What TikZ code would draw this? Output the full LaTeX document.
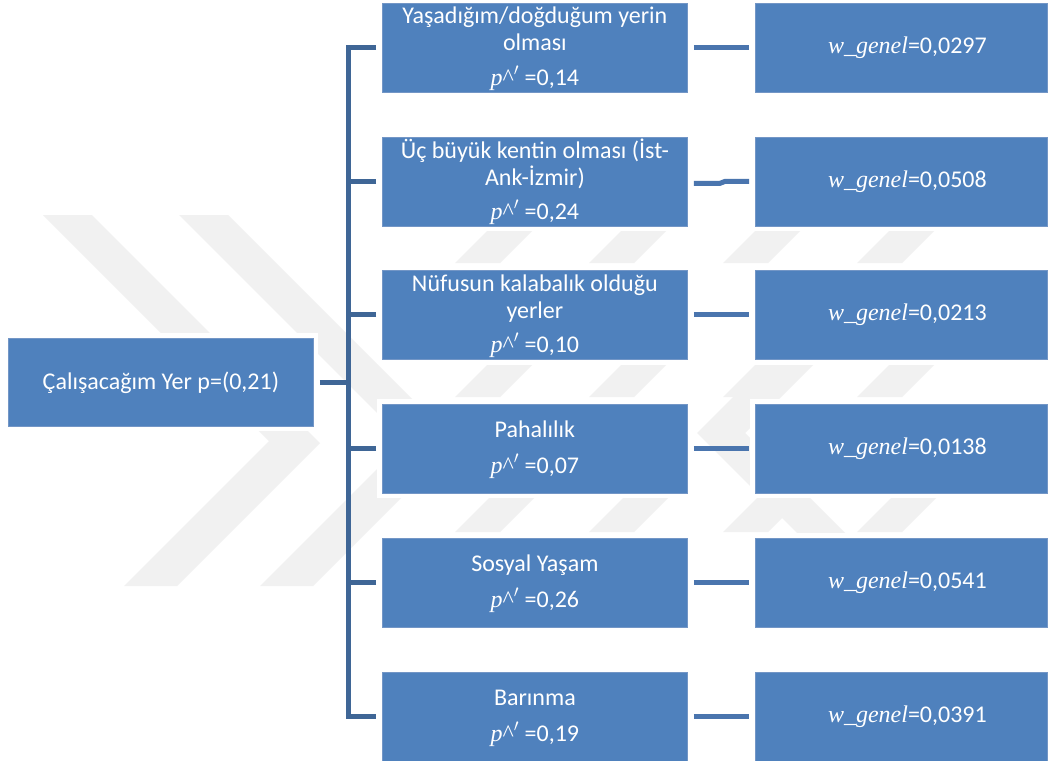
\documentclass[tikz,border=0pt]{standalone}
\usepackage{fontspec}
\setmainfont{Carlito}
\newfontfamily\mfont{Liberation Serif}
\usetikzlibrary{calc}
\definecolor{boxblue}{HTML}{4F81BD}
\definecolor{boxedge}{HTML}{7396C6}
\definecolor{treeline}{HTML}{3F6696}
\definecolor{rline}{HTML}{4A75AE}
\definecolor{wm}{HTML}{F1F1F1}
\newcommand{\mi}[1]{{\mfont\itshape #1}}
\newcommand{\pp}{\mi{p}{\mfont\textasciicircum}$'$}
\begin{document}
\begin{tikzpicture}[x=1pt,y=-1pt,
  abox/.style={fill=boxblue, draw=boxedge, line width=0.8pt, inner sep=0pt,
               anchor=north west, preaction={draw=white, line width=10pt}},
  mbox/.style={abox, minimum width=305pt, minimum height=89pt},
  rbox/.style={abox, minimum width=292pt, minimum height=89pt},
  txt/.style={text=white, font=\fontsize{24}{28}\selectfont, anchor=base, inner sep=0pt},
  tree/.style={draw=treeline, line width=5pt},
  rcon/.style={draw=rline, line width=5pt},
  wmark/.style={fill=wm, draw=none}]
\useasboundingbox (0,0) rectangle (1049,760);
\fill[white] (0,0) rectangle (1049,760);
% watermark
\fill[wmark] (43,215)--(92,215)--(320,443)--(177,586)--(124,586)--(269,441)--cycle;
\fill[wmark] (179,215)--(228,215)--(456,443)--(313,586)--(260,586)--(405,441)--cycle;
\foreach \yt/\yb in {230/263,365/397,498/532}{
  \foreach \xo in {455,589,723,857}{
    \fill[wmark] (\xo,\yb)--(\xo+45,\yb)--(\xo+45+\yb-\yt,\yt)--(\xo+\yb-\yt,\yt)--cycle;
  }
}
\fill[wmark] (697,433)--(765,365)--(813,365)--(745,433)--(845,533)--(797,533)--cycle;
% boxes
\node[mbox, minimum height=88pt] (root) at (8,338) {};
\node[mbox] (m1) at (382,3) {};
\node[mbox] (m2) at (382,137) {};
\node[mbox] (m3) at (382,270) {};
\node[mbox] (m4) at (382,404) {};
\node[mbox] (m5) at (382,538) {};
\node[mbox] (m6) at (382,672) {};
\node[rbox] (r1) at (755,3) {};
\node[rbox] (r2) at (755,137) {};
\node[rbox] (r3) at (755,270) {};
\node[rbox] (r4) at (755,404) {};
\node[rbox] (r5) at (755,538) {};
\node[rbox] (r6) at (755,672) {};
% tree connectors
\draw[tree] ($(root.east)+(6,0)$) -- ($(root.east)+(35,0)$);
\draw[tree] ($(m1.west)+(-6,0)$) -- ($(m1.west)+(-34,0)$) -- ($(m6.west)+(-34,0)$) -- ($(m6.west)+(-6,0)$);
\foreach \n in {m2,m3,m4,m5}{
  \draw[tree] ($(\n.west)+(-6,0)$) -- ($(\n.west)+(-34,0)$);
}
% right connectors
\draw[rcon] ($(m1.east)+(6,0)$) -- ($(r1.west)+(-6,0)$);
\draw[rcon] ($(m2.east)+(6,1.5)$) -- ($(m2.east)+(32,1.5)$) -- ($(r2.west)+(-30,-0.5)$) -- ($(r2.west)+(-6,-0.5)$);
\draw[rcon] ($(m3.east)+(6,0)$) -- ($(r3.west)+(-6,0)$);
\draw[rcon] ($(m4.east)+(6,0)$) -- ($(r4.west)+(-6,0)$);
\draw[rcon] ($(m5.east)+(6,0)$) -- ($(r5.west)+(-6,0)$);
\draw[rcon] ($(m6.east)+(6,0)$) -- ($(r6.west)+(-6,0)$);
% texts
\node[txt] (t0) at ($(root.center)+(0,7)$) {Çalışacağım Yer p=(0,21)};
\node[txt] (t1a) at ($(m1.north)+(0,21)$) {Yaşadığım/doğduğum yerin};
\node[txt] (t1b) at ($(m1.north)+(0,48)$) {olması};
\node[txt] (t1c) at ($(m1.north)+(0,82)$) {\pp{} =0,14};
\node[txt] (t2a) at ($(m2.north)+(0,21)$) {Üç büyük kentin olması (İst-};
\node[txt] (t2b) at ($(m2.north)+(0,48)$) {Ank-İzmir)};
\node[txt] (t2c) at ($(m2.north)+(0,82)$) {\pp{} =0,24};
\node[txt] (t3a) at ($(m3.north)+(0,21)$) {Nüfusun kalabalık olduğu};
\node[txt] (t3b) at ($(m3.north)+(0,48)$) {yerler};
\node[txt] (t3c) at ($(m3.north)+(0,82)$) {\pp{} =0,10};
\node[txt] (t4a) at ($(m4.north)+(0,33)$) {Pahalılık};
\node[txt] (t4b) at ($(m4.north)+(0,69)$) {\pp{} =0,07};
\node[txt] (t5a) at ($(m5.north)+(0,33)$) {Sosyal Yaşam};
\node[txt] (t5b) at ($(m5.north)+(0,69)$) {\pp{} =0,26};
\node[txt] (t6a) at ($(m6.north)+(0,33)$) {Barınma};
\node[txt] (t6b) at ($(m6.north)+(0,69)$) {\pp{} =0,19};
\node[txt] (u1) at ($(r1.center)+(6,6)$) {\mi{w\_genel}=0,0297};
\node[txt] (u2) at ($(r2.center)+(6,6)$) {\mi{w\_genel}=0,0508};
\node[txt] (u3) at ($(r3.center)+(6,6)$) {\mi{w\_genel}=0,0213};
\node[txt] (u4) at ($(r4.center)+(6,6)$) {\mi{w\_genel}=0,0138};
\node[txt] (u5) at ($(r5.center)+(6,6)$) {\mi{w\_genel}=0,0541};
\node[txt] (u6) at ($(r6.center)+(6,6)$) {\mi{w\_genel}=0,0391};
\end{tikzpicture}
\end{document}
